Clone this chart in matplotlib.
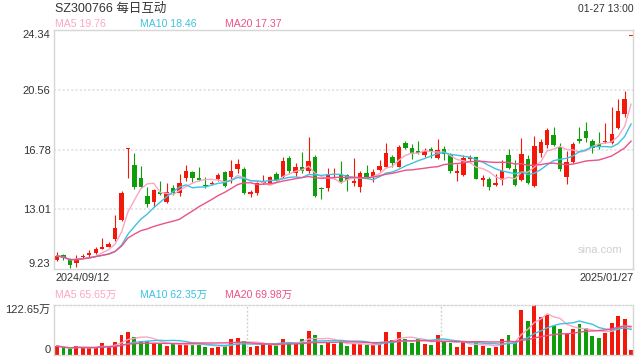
import matplotlib
matplotlib.use("Agg")
import matplotlib.pyplot as plt
import numpy as np
import pandas as pd

plt.rcParams['font.family'] = ['Liberation Sans', 'Noto Sans CJK SC']

# daily k-line, 2024/09/12 .. 2025/01/27 (price in CNY, volume in 万)
opens = [9.80, 10.10, 9.80, 9.59, 9.99, 10.14, 10.27, 10.52, 10.65, 11.11,
         12.33, 16.80, 15.81, 14.96, 13.85, 13.49, 14.10, 13.49, 14.33, 14.06,
         14.96, 15.39, 14.99, 14.54, 14.59, 14.90, 15.39, 15.07, 15.55, 15.55,
         13.97, 14.06, 14.69, 14.65, 15.24, 15.03, 16.27, 15.28, 15.66, 15.45,
         16.33, 14.35, 14.33, 15.18, 15.18, 15.18, 14.69, 14.44, 15.32, 15.03,
         15.49, 15.70, 16.29, 15.70, 17.22, 16.88, 16.69, 16.44, 16.82, 16.27,
         16.84, 16.44, 15.28, 15.18, 16.16, 16.29, 14.86, 14.92, 14.56, 14.86,
         16.44, 15.57, 14.86, 16.19, 14.48, 16.59, 17.07, 17.70, 16.97, 15.07,
         16.02, 17.45, 17.96, 17.32, 17.11, 17.26, 17.18, 18.17, 19.01, 23.98]
highs = [10.33, 10.18, 9.91, 10.12, 10.16, 10.43, 10.60, 11.17, 10.94, 12.65,
         14.19, 16.85, 16.59, 15.77, 14.40, 14.31, 14.82, 14.65, 14.54, 15.24,
         15.81, 15.45, 15.66, 15.03, 14.82, 15.28, 15.45, 16.12, 16.16, 15.70,
         14.23, 14.75, 15.18, 15.11, 15.39, 16.29, 16.38, 15.96, 16.65, 17.56,
         16.44, 14.44, 15.64, 15.64, 16.06, 15.22, 16.23, 15.43, 15.81, 15.55,
         16.12, 17.22, 16.44, 17.04, 17.35, 17.11, 17.35, 16.86, 16.92, 17.45,
         17.01, 16.54, 15.85, 16.44, 16.44, 16.33, 15.18, 15.07, 15.24, 16.12,
         16.80, 16.12, 17.49, 16.44, 17.64, 17.43, 18.17, 18.23, 17.18, 16.69,
         17.28, 18.19, 18.50, 17.43, 17.87, 18.48, 19.49, 19.98, 20.48, 23.98]
lows = [9.74, 9.80, 9.32, 9.38, 9.93, 10.01, 10.18, 10.48, 10.60, 11.03,
        12.27, 14.96, 14.27, 14.33, 13.13, 13.13, 13.89, 13.43, 13.91, 13.85,
        14.80, 14.75, 14.80, 14.33, 14.52, 14.80, 14.44, 14.69, 15.28, 13.97,
        13.76, 13.91, 14.61, 14.61, 14.80, 14.96, 15.32, 15.11, 15.32, 15.32,
        13.76, 13.66, 14.19, 14.90, 14.65, 14.19, 14.48, 14.08, 14.96, 14.75,
        15.43, 15.66, 15.70, 15.66, 16.80, 16.17, 16.48, 16.33, 16.23, 16.21,
        16.12, 15.28, 14.82, 15.11, 16.02, 14.92, 14.48, 14.23, 14.48, 14.54,
        15.53, 14.48, 14.80, 14.61, 14.44, 16.29, 16.86, 17.01, 15.45, 14.59,
        15.91, 17.18, 17.28, 16.59, 16.80, 17.18, 17.11, 18.06, 18.82, 23.98]
closes = [10.06, 9.91, 9.49, 9.87, 10.06, 10.23, 10.48, 10.65, 10.83, 11.82,
          14.04, 16.85, 14.40, 14.44, 13.34, 14.23, 13.95, 14.10, 14.06, 14.69,
          15.43, 15.01, 14.86, 14.48, 14.69, 15.18, 14.50, 15.43, 15.87, 14.06,
          14.10, 14.65, 14.75, 15.03, 14.86, 16.06, 15.45, 15.66, 15.45, 16.06,
          13.85, 14.31, 15.24, 15.24, 14.75, 14.86, 14.82, 15.32, 15.03, 15.34,
          15.75, 16.59, 15.91, 16.95, 16.86, 16.48, 16.54, 16.69, 16.67, 16.75,
          16.48, 15.43, 15.43, 16.23, 16.29, 14.92, 15.01, 14.44, 14.65, 15.43,
          15.60, 14.54, 16.50, 14.69, 17.01, 17.28, 18.02, 17.07, 15.53, 16.02,
          17.14, 17.32, 17.49, 16.86, 16.92, 17.32, 17.77, 19.22, 19.98, 23.98]
volumes = [22.1, 16.4, 13.9, 22.1, 18.0, 18.0, 18.0, 30.3, 20.4, 32.7,
           49.1, 57.3, 45.0, 34.3, 34.3, 30.3, 26.2, 22.9, 26.2, 26.2,
           26.2, 26.2, 26.2, 20.4, 18.0, 20.4, 22.1, 38.4, 42.5, 34.3,
           20.4, 22.9, 26.2, 26.2, 23.7, 39.2, 31.1, 26.2, 39.2, 58.9,
           49.1, 24.5, 32.7, 27.0, 32.7, 22.1, 27.0, 27.0, 24.5, 24.5,
           26.2, 56.4, 36.8, 56.4, 39.2, 30.3, 40.0, 27.0, 24.5, 49.1,
           34.3, 28.6, 20.4, 31.9, 20.4, 30.3, 22.1, 18.0, 20.4, 39.2,
           49.1, 32.7, 110.4, 83.4, 122.65, 92.4, 98.1, 72.0, 63.8, 51.5,
           63.8, 76.0, 67.0, 46.6, 42.5, 54.8, 79.3, 95.7, 88.3, 12.3]

title = "SZ300766 每日互动"
timestamp = "01-27 13:00"
start_label, end_label = "2024/09/12", "2025/01/27"
price_ticks = [24.34, 20.56, 16.78, 13.01, 9.23]
vol_max = 122.65
ma_windows = [5, 10, 20]
ma_price_labels = ["MA5 19.76", "MA10 18.46", "MA20 17.37"]
ma_vol_labels = ["MA5 65.65万", "MA10 62.35万", "MA20 69.98万"]

RED, GREEN = "#f2190b", "#0f9d0c"
MA_COLORS = ["#fba6c6", "#3dc2e2", "#ec5188"]
BORDER = "#d6d6d6"
TXT = "#333333"
DOT = (0, (1.4, 1.4))

o, h, l, c = map(np.array, (opens, highs, lows, closes))
v = np.array(volumes)
x = np.arange(len(c))
cols = np.where(c >= o, RED, GREEN)

W, H = 640, 360
fig = plt.figure(figsize=(6.4, 3.6), dpi=100)
ax = fig.add_axes([54 / W, 1 - 269 / H, 579 / W, 239 / H])
axv = fig.add_axes([54 / W, 1 - 355 / H, 579 / W, 50 / H])

# price panel
ax.vlines(x, l, h, colors=cols, lw=0.8, zorder=2)
ax.bar(x, np.maximum(np.abs(c - o), 0.07), bottom=np.minimum(o, c),
       width=0.68, color=cols, lw=0, zorder=2, clip_on=False)
for n, col in zip(ma_windows, MA_COLORS):
    ma = pd.Series(c).rolling(n, min_periods=1).mean()
    ax.plot(x, ma, color=col, lw=1.0, zorder=3)

ax.set_xlim(-0.47, 89.3)
ax.set_ylim(price_ticks[-1], price_ticks[0])
ax.set_xticks([])
ax.set_yticks(price_ticks)
ax.set_yticklabels([f"{t:.2f}" for t in price_ticks])
for t in price_ticks[1:-1]:
    ax.axhline(t, color="#dedede", lw=1.1, ls=DOT, zorder=1)
labels = ax.get_yticklabels()
labels[0].set_va("top")
labels[-1].set_va("bottom")
ax.tick_params(axis="y", length=0, pad=2.5, labelsize=8, labelcolor=TXT)
for s in ax.spines.values():
    s.set_color(BORDER)
    s.set_linewidth(1)
ax.text(0.982, 0.08, "sina.com", transform=ax.transAxes, ha="right",
        va="center", fontsize=8, color="#cfcfcf")

# volume panel
axv.bar(x, v, width=0.6, color=cols, lw=0, zorder=2)
for n, col in zip(ma_windows, MA_COLORS):
    ma = pd.Series(v).rolling(n, min_periods=1).mean()
    axv.plot(x, ma, color=col, lw=1.0, zorder=3)
axv.set_xlim(-0.47, 89.3)
axv.set_ylim(0, vol_max)
axv.set_xticks([])
axv.set_yticks([vol_max, 0])
axv.set_yticklabels([f"{vol_max:.2f}万", "0"])
vl = axv.get_yticklabels()
vl[0].set_va("top")
vl[1].set_va("bottom")
axv.tick_params(axis="y", length=0, pad=2.5, labelsize=8, labelcolor=TXT)
for xv in (29.5, 59.5):
    axv.axvline(xv, color="#d0d0d0", lw=1.0, ls=DOT, zorder=1)
for name, s in axv.spines.items():
    s.set_color(BORDER)
    s.set_linewidth(1)
    if name in ("top", "bottom"):
        s.set_linestyle(DOT)

# header texts
def px(xp, yp):
    return xp / W, 1 - yp / H

fig.text(*px(55, 9), title, fontsize=9, color=TXT, va="center")
fig.text(*px(634, 9), timestamp, fontsize=7.5, color=TXT, va="center", ha="right")
for xp, lab, col in zip((55, 140, 225), ma_price_labels, MA_COLORS):
    fig.text(*px(xp, 24), lab, fontsize=7.6, color=col, va="center")
    fig.text(*px(xp, 295), ma_vol_labels[[55, 140, 225].index(xp)],
             fontsize=7.6, color=col, va="center")
fig.text(*px(55, 278), start_label, fontsize=7.8, color=TXT, va="center")
fig.text(*px(634, 278), end_label, fontsize=7.8, color=TXT, va="center", ha="right")

fig.savefig("out.png", dpi=100)
